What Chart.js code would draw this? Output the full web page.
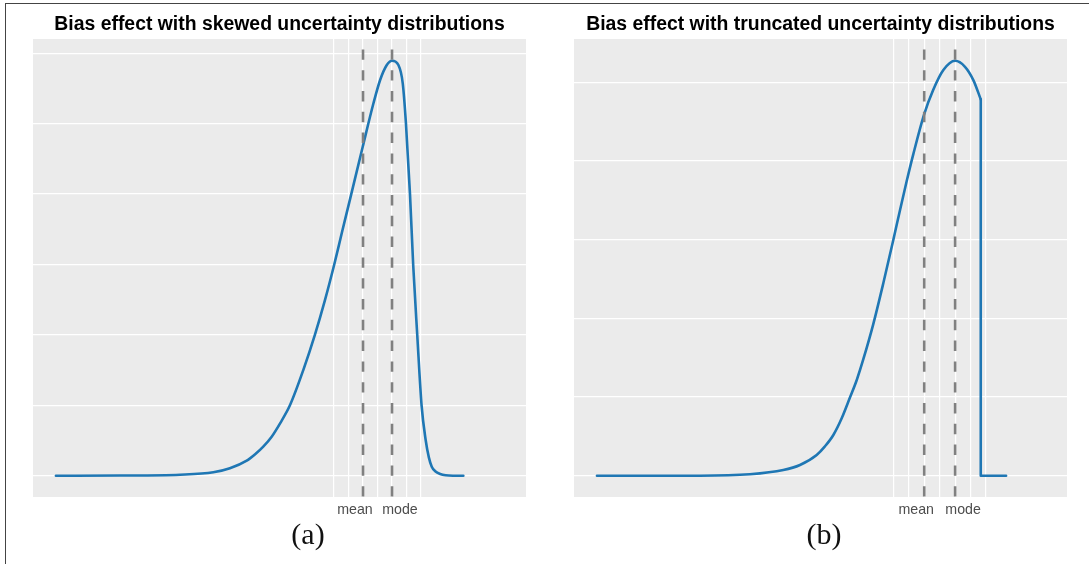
<!DOCTYPE html>
<html>
<head>
<meta charset="utf-8">
<title>Bias effect</title>
<script src="https://cdn.jsdelivr.net/npm/chart.js@4.4.1/dist/chart.umd.min.js"></script>
<style>
  html, body { margin:0; padding:0; background:#fff; }
  #page { position:relative; width:1089px; height:564px; overflow:hidden; }
  #frame { position:absolute; left:5px; top:3px; width:1100px; height:600px;
           border-top:1.5px solid #444; border-left:1.5px solid #444; }
  .panel { position:absolute; top:0; width:493px; height:564px; }
  .caption { position:absolute; top:519px; line-height:30px; font-size:30px; color:#111;
             font-family:"Liberation Serif","Times New Roman",serif; transform:translateX(-50%); }
</style>
</head>
<body>
<div id="page">
  <div id="frame"></div>
  <div class="panel" style="left:33px"><canvas id="chart-skew"></canvas></div>
  <div class="panel" style="left:574px"><canvas id="chart-trunc"></canvas></div>
  <div class="caption" style="left:308px">(a)</div>
  <div class="caption" style="left:824px">(b)</div>
</div>
<script>
/* two density panels: skewed vs truncated uncertainty, with mean / mode markers */

const MEAN = 1;
const MODE = 2;
const X_LABELS = ['mean', 'mode'];
const GRID_X = [0, 0.5, 1, 1.5, 2, 2.5, 3];

// (a) skewed density
const SKEW_X = [-9.59, -7.38, -5.31, -4.16, -3.59, -3.01, -2.72, -2.44, -2.15, -1.86, -1.52, -1.06,
                -0.66, -0.31, 0.01, 0.27, 0.53, 0.99, 1.36, 1.59, 1.82, 2.00, 2.22, 2.37, 2.48,
                2.62, 2.73, 2.87, 3.02, 3.16, 3.27, 3.37, 3.50, 3.66, 3.85, 4.10, 4.46];
const SKEW_Y = [0, 0.002, 0.014, 0.048, 0.105, 0.213, 0.304, 0.412, 0.554, 0.744, 1.000, 1.500,
                2.000, 2.497, 3.003, 3.450, 3.890, 4.673, 5.290, 5.621, 5.834, 5.895, 5.834, 5.574,
                5.006, 3.997, 2.993, 1.999, 0.994, 0.507, 0.260, 0.128, 0.060, 0.025, 0.006, 0, 0];
const SKEW_GRID_Y = [0, 1, 2, 3, 4, 5, 6];

// (b) truncated density, then the cut-off drop and zero tail
const TRUNC_X = [-9.59, -6.26, -4.64, -3.56, -3.02, -2.48, -2.22, -1.94, -1.67, -1.40, -1.18, -0.97,
                 -0.65, -0.32, 0.00, 0.22, 0.43, 0.65, 0.99, 1.29, 1.62, 2.00, 2.32, 2.59, 2.83];
const TRUNC_Y = [0, 0, 0.018, 0.072, 0.136, 0.263, 0.369, 0.517, 0.729, 0.996, 1.220, 1.480,
                 1.924, 2.452, 2.996, 3.381, 3.738, 4.090, 4.583, 4.901, 5.155, 5.273, 5.197, 5.028, 4.783];
const DROP_X = [2.83, 2.83, 3.65];
const DROP_Y = [4.783, 0, 0];
const TRUNC_GRID_Y = [0, 1, 2, 3, 4, 5];

const CURVE = '#1f77b4';
const VLINE = '#808080';
const PANEL_BG = '#EBEBEB';

const pts = (xs, ys) => xs.map((x, i) => ({ x, y: ys[i] }));

function vline(x, yMin, yMax) {
  return {
    data: [{ x, y: yMax }, { x, y: yMin }],
    borderColor: VLINE, borderWidth: 2.6,
    borderDash: [10.4, 10.4], borderDashOffset: 10.4,
    pointRadius: 0, tension: 0, order: 1,
  };
}

const panelDecor = {
  id: 'panelDecor',
  beforeDraw(chart) {
    const { ctx, chartArea: a } = chart;
    ctx.save();
    ctx.fillStyle = PANEL_BG;
    ctx.fillRect(a.left, a.top, a.width, a.height);
    ctx.restore();
  },
  afterDraw(chart, args, opts) {
    const { ctx, chartArea: a, scales: { x } } = chart;
    ctx.save();
    ctx.textAlign = 'center';
    ctx.textBaseline = 'middle';
    ctx.fillStyle = '#000';
    ctx.font = 'bold 19.4px "Liberation Sans", Arial, sans-serif';
    ctx.fillText(opts.title, (a.left + a.right) / 2, 25);
    ctx.fillStyle = '#4d4d4d';
    ctx.font = '14.2px "Liberation Sans", Arial, sans-serif';
    ctx.fillText(X_LABELS[0], x.getPixelForValue(MEAN) - 8, a.bottom + 13);
    ctx.fillText(X_LABELS[1], x.getPixelForValue(MODE) + 8, a.bottom + 13);
    ctx.restore();
  },
};

function axis(min, max, grid) {
  return {
    type: 'linear', min, max,
    afterBuildTicks: s => { s.ticks = grid.map(v => ({ value: v })); },
    ticks: { display: false },
    grid: { color: '#ffffff', lineWidth: 1.2, drawTicks: false },
    border: { display: false },
  };
}

function densityPanel(id, title, curves, xr, yr, gridY) {
  return new Chart(document.getElementById(id), {
    type: 'line',
    data: {
      datasets: [
        vline(MEAN, yr[0], yr[1]),
        vline(MODE, yr[0], yr[1]),
        ...curves.map(c => ({
          data: c.data, borderColor: CURVE, borderWidth: 2.6, pointRadius: 0,
          borderCapStyle: 'round', borderJoinStyle: 'round',
          cubicInterpolationMode: c.smooth ? 'monotone' : 'default', tension: 0, order: 2,
        })),
      ],
    },
    options: {
      responsive: true, maintainAspectRatio: false, animation: false,
      layout: { padding: { top: 39, bottom: 67, left: 0, right: 0 } },
      plugins: { legend: { display: false }, tooltip: { enabled: false }, panelDecor: { title } },
      scales: { x: axis(xr[0], xr[1], GRID_X), y: axis(yr[0], yr[1], gridY) },
    },
    plugins: [panelDecor],
  });
}

densityPanel('chart-skew', 'Bias effect with skewed uncertainty distributions',
  [{ data: pts(SKEW_X, SKEW_Y), smooth: true }],
  [-10.38, 6.62], [-0.3026, 6.203], SKEW_GRID_Y);

densityPanel('chart-trunc', 'Bias effect with truncated uncertainty distributions',
  [{ data: pts(TRUNC_X, TRUNC_Y), smooth: true }, { data: pts(DROP_X, DROP_Y), smooth: false }],
  [-10.333, 5.621], [-0.2707, 5.55], TRUNC_GRID_Y);
</script>
</body>
</html>
